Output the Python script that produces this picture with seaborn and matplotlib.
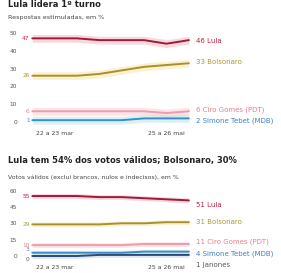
import matplotlib
matplotlib.use("Agg")
import matplotlib.pyplot as plt
import seaborn as sns
import pandas as pd
import numpy as np

# ---- data ----
polls = ["1", "22 a 23 mar", "3", "4", "5", "6", "25 a 26 mai", "8"]
tick_idx = [1, 6]

candidates = ["Lula", "Bolsonaro", "Ciro Gomes (PDT)", "Simone Tebet (MDB)"]
top_lula = [47, 47, 47, 46, 46, 46, 44, 46]
top_bolsonaro = [26, 26, 26, 27, 29, 31, 32, 33]
top_ciro = [6, 6, 6, 6, 6, 6, 5, 6]
top_tebet = [1, 1, 1, 1, 1, 2, 2, 2]

candidates_v = ["Lula", "Bolsonaro", "Ciro Gomes (PDT)", "Simone Tebet (MDB)", "Janones"]
bot_lula = [55, 55, 55, 54, 54, 53, 52, 51]
bot_bolsonaro = [29, 29, 29, 29, 30, 30, 31, 31]
bot_ciro = [10, 10, 10, 10, 10, 11, 11, 11]
bot_tebet = [3, 3, 3, 3, 3, 4, 4, 4]
bot_janones = [0, 0, 0, 1, 1, 1, 1, 1]

top_yticks = [0, 10, 20, 30, 40, 50]
bot_yticks = [0, 15, 30, 45, 60]

line_col = {"Lula": "#9e1b3a", "Bolsonaro": "#a89030", "Ciro Gomes (PDT)": "#f19aa8",
            "Simone Tebet (MDB)": "#3b8fbf", "Janones": "#2a4a7a"}
band_col = {"Lula": "#f4b6c2", "Bolsonaro": "#f7e9a8", "Ciro Gomes (PDT)": "#fbd0d7",
            "Simone Tebet (MDB)": "#bfe3f2", "Janones": "#c8d4e6"}
text_col = {"Lula": "#c0203f", "Bolsonaro": "#b0962e", "Ciro Gomes (PDT)": "#f07a8a",
            "Simone Tebet (MDB)": "#3a86c0", "Janones": "#555555"}

sns.set_theme(style="white")
plt.rcParams["font.family"] = ["DejaVu Sans"]

fig = plt.figure(figsize=(2.81, 2.73), dpi=100)
W, H = 281, 273


def panel(rect, names, series, ylim, yticks, label_y, start_dy):
    ax = fig.add_axes(rect)
    x = np.arange(len(polls))
    rows = []
    for n, s in zip(names, series):
        for i, v in enumerate(s):
            rows.append({"idx": i, "valor": v, "candidato": n})
    df = pd.DataFrame(rows)
    for n, s in zip(names, series):
        s = np.array(s, float)
        ax.fill_between(x, s - 2.2, s + 2.2, color=band_col[n], alpha=0.55, lw=0)
    sns.lineplot(data=df, x="idx", y="valor", hue="candidato", hue_order=names,
                 palette=line_col, legend=False, linewidth=1.4, ax=ax)
    ax.set_xlim(-0.55, 7.05)
    ax.set_ylim(*ylim)
    ax.set_yticks(yticks)
    ax.set_yticklabels([str(t) for t in yticks], fontsize=4.2, color="#555555")
    ax.set_xticks(tick_idx)
    ax.set_xticklabels([polls[i] for i in tick_idx], fontsize=4.4, color="#444444")
    ax.tick_params(length=0, pad=2)
    ax.set_xlabel("")
    ax.set_ylabel("")
    for sp in ax.spines.values():
        sp.set_visible(False)
    for n, s, ly, dy in zip(names, series, label_y, start_dy):
        ax.annotate(str(s[0]), xy=(-0.12, s[0]), xytext=(0, dy),
                    textcoords="offset points", fontsize=4.2, color=text_col[n],
                    ha="right", va="center")
        ax.annotate(f"{s[-1]} {n}", xy=(7.05, ly), xycoords="data",
                    xytext=(4, 0), textcoords="offset points",
                    fontsize=5.0, color=text_col[n], va="center", ha="left",
                    annotation_clip=False)
    return ax


# top panel
panel([20 / W, 1 - 128 / H, 170 / W, 98 / H], candidates,
      [top_lula, top_bolsonaro, top_ciro, top_tebet], (-3.4, 51.7), top_yticks,
      [45.5, 33.5, 7, 0.5], [0, 0, 0, 0])

# bottom panel
panel([20 / W, 1 - 262 / H, 170 / W, 76 / H], candidates_v,
      [bot_lula, bot_bolsonaro, bot_ciro, bot_tebet, bot_janones], (-5.5, 64.2), bot_yticks,
      [47, 31, 13.5, 2.5, -8.5], [0, 0, 0, 2, -2.5])

fig.text(8 / W, 1 - 7 / H, "Lula lidera 1º turno", fontsize=6, fontweight="bold",
         color="#222222", va="baseline")
fig.text(8 / W, 1 - 17 / H, "Respostas estimuladas, em %", fontsize=4.6,
         color="#444444", va="center")
fig.text(8 / W, 1 - 160 / H, "Lula tem 54% dos votos válidos; Bolsonaro, 30%",
         fontsize=6, fontweight="bold", color="#222222", va="center")
fig.text(8 / W, 1 - 177 / H, "Votos válidos (exclui brancos, nulos e indecisos), em %",
         fontsize=4.4, color="#444444", va="center")

fig.savefig("out.png", dpi=100)
